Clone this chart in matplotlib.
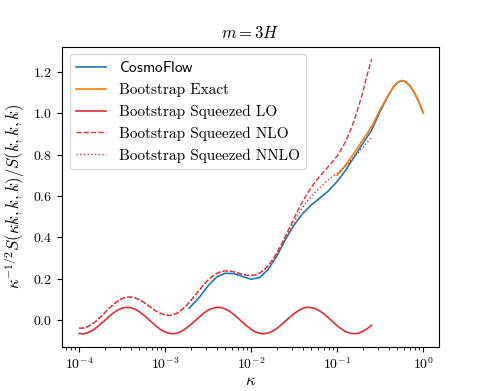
import numpy as np
import matplotlib.pyplot as plt

plt.rcParams['mathtext.fontset'] = 'cm'
plt.rcParams['font.family'] = 'serif'
plt.rcParams['font.serif'] = ['cmr10']
plt.rcParams['axes.unicode_minus'] = False
plt.rcParams['axes.formatter.use_mathtext'] = True

# log10(kappa) grid of the bootstrap curves
lg_bs = np.array([-4.0, -3.95, -3.9, -3.85, -3.8, -3.75, -3.7, -3.65, -3.6, -3.55,
                  -3.5, -3.45, -3.4, -3.35, -3.3, -3.25, -3.2, -3.15, -3.1, -3.05,
                  -3.0, -2.95, -2.9, -2.85, -2.8, -2.75, -2.7, -2.65, -2.6, -2.55,
                  -2.5, -2.45, -2.4, -2.35, -2.3, -2.25, -2.2, -2.15, -2.1, -2.05,
                  -2.0, -1.95, -1.9, -1.85, -1.8, -1.75, -1.7, -1.65, -1.6, -1.55,
                  -1.5, -1.45, -1.4, -1.35, -1.3, -1.25, -1.2, -1.15, -1.1, -1.05,
                  -1.0, -0.95, -0.9, -0.85, -0.8, -0.75, -0.7, -0.65, -0.6])
lo = np.array([-0.066, -0.067, -0.062, -0.052, -0.038, -0.020, -0.002, 0.017, 0.034, 0.048,
               0.057, 0.061, 0.059, 0.052, 0.040, 0.024, 0.006, -0.013, -0.031, -0.047,
               -0.058, -0.065, -0.067, -0.063, -0.053, -0.039, -0.022, -0.004, 0.015, 0.033,
               0.047, 0.056, 0.061, 0.060, 0.053, 0.042, 0.026, 0.008, -0.011, -0.029,
               -0.045, -0.058, -0.065, -0.067, -0.063, -0.054, -0.041, -0.024, -0.005, 0.013,
               0.031, 0.045, 0.056, 0.061, 0.060, 0.054, 0.043, 0.028, 0.010, -0.009,
               -0.028, -0.044, -0.057, -0.064, -0.067, -0.064, -0.055, -0.042, -0.026])
nlo = np.array([-0.040, -0.039, -0.033, -0.021, -0.005, 0.014, 0.035, 0.056, 0.075, 0.091,
                0.103, 0.110, 0.111, 0.107, 0.098, 0.086, 0.071, 0.056, 0.042, 0.031,
                0.024, 0.022, 0.025, 0.035, 0.051, 0.070, 0.094, 0.119, 0.145, 0.171,
                0.193, 0.211, 0.225, 0.234, 0.237, 0.236, 0.233, 0.227, 0.221, 0.216,
                0.215, 0.218, 0.227, 0.242, 0.264, 0.292, 0.326, 0.365, 0.407, 0.450,
                0.493, 0.535, 0.575, 0.610, 0.642, 0.670, 0.696, 0.720, 0.743, 0.767,
                0.794, 0.827, 0.865, 0.913, 0.968, 1.033, 1.106, 1.188, 1.262])
nnlo = np.array([-0.040, -0.039, -0.033, -0.021, -0.005, 0.014, 0.035, 0.056, 0.075, 0.091,
                 0.103, 0.110, 0.111, 0.107, 0.098, 0.086, 0.071, 0.056, 0.042, 0.031,
                 0.024, 0.022, 0.025, 0.035, 0.051, 0.070, 0.094, 0.119, 0.145, 0.171,
                 0.193, 0.211, 0.225, 0.234, 0.237, 0.236, 0.233, 0.227, 0.221, 0.216,
                 0.215, 0.218, 0.227, 0.241, 0.260, 0.288, 0.320, 0.357, 0.398, 0.437,
                 0.475, 0.512, 0.545, 0.573, 0.598, 0.620, 0.640, 0.660, 0.680, 0.695,
                 0.710, 0.727, 0.745, 0.767, 0.790, 0.812, 0.835, 0.860, 0.885])

lg_cf = np.array([-2.72, -2.6, -2.5, -2.4, -2.3, -2.2, -2.1, -2.0, -1.9, -1.8,
                  -1.7, -1.6, -1.5, -1.4, -1.3, -1.2, -1.1, -1.0, -0.9, -0.8,
                  -0.7, -0.6, -0.5, -0.4, -0.35, -0.3, -0.25, -0.2, -0.15, -0.1,
                  -0.05, 0.0])
cosmoflow = np.array([0.057, 0.110, 0.165, 0.208, 0.226, 0.224, 0.210, 0.197, 0.205, 0.245,
                      0.310, 0.390, 0.460, 0.515, 0.557, 0.590, 0.625, 0.670, 0.725, 0.790,
                      0.855, 0.918, 1.010, 1.090, 1.125, 1.148, 1.158, 1.152, 1.130, 1.097,
                      1.055, 1.002])

lg_ex = np.array([-1.0, -0.9, -0.8, -0.7, -0.6, -0.5, -0.4, -0.35, -0.3, -0.25,
                  -0.2, -0.15, -0.1, -0.05, 0.0])
exact = np.array([0.700, 0.750, 0.810, 0.872, 0.935, 1.018, 1.092, 1.126, 1.149, 1.159,
                  1.153, 1.131, 1.098, 1.056, 1.003])

red = '#dc2f32'

fig = plt.figure(figsize=(4.88, 3.91), dpi=100)
ax = fig.add_axes([0.127, 0.1125, 0.773, 0.768])

ax.plot(10**lg_cf, cosmoflow, color='#1f77b4', lw=1.2, label=r'$\mathsf{CosmoFlow}$')
ax.plot(10**lg_ex, exact, color='#ff7f0e', lw=1.2, label='Bootstrap Exact')
ax.plot(10**lg_bs, lo, color=red, lw=1.2, label='Bootstrap Squeezed LO')
ax.plot(10**lg_bs, nlo, color=red, lw=1.0, ls='--', label='Bootstrap Squeezed NLO')
ax.plot(10**lg_bs, nnlo, color=red, lw=1.0, ls=':', label='Bootstrap Squeezed NNLO')

ax.set_xscale('log')
ax.set_xlim(10**-4.198, 10**0.186)
ax.set_ylim(-0.131, 1.322)
ax.set_yticks([0.0, 0.2, 0.4, 0.6, 0.8, 1.0, 1.2])
ax.tick_params(labelsize=10)

ax.set_title(r'$m = 3H$', fontsize=12, pad=6)
ax.set_xlabel(r'$\kappa$', fontsize=12, labelpad=0)
ax.set_ylabel(r'$\kappa^{-1/2}S(\kappa k, k, k)/S(k, k, k)$', fontsize=12)

ax.legend(loc='upper left', fontsize=11, handlelength=2.0)

fig.savefig('out.png', dpi=100)
